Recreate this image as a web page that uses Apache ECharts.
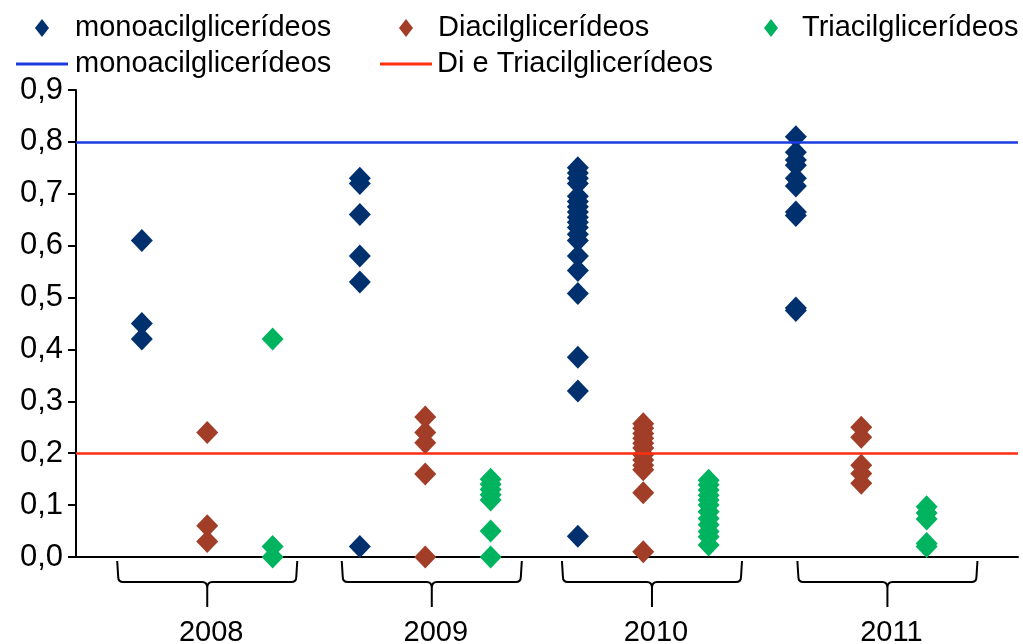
<!DOCTYPE html>
<html>
<head>
<meta charset="utf-8">
<script src="https://cdn.jsdelivr.net/npm/echarts@6/dist/echarts.min.js"></script>
<style>
  html, body { margin: 0; padding: 0; background: #fff; }
  #chart { width: 1023px; height: 644px; }
</style>
</head>
<body>
<div id="chart"></div>
<script>
// ---------- data ----------
const years = ['2008', '2009', '2010', '2011'];
const scatterNames = ['monoacilglicerídeos', 'Diacilglicerídeos', 'Triacilglicerídeos'];
const limitNames = ['monoacilglicerídeos', 'Di e Triacilglicerídeos'];
const limitValues = [0.8, 0.2];

// values per year (2008, 2009, 2010, 2011)
const monoacil = [
  [0.61, 0.45, 0.42],
  [0.73, 0.72, 0.66, 0.58, 0.53, 0.02],
  [0.75, 0.74, 0.73, 0.72, 0.695, 0.685, 0.675, 0.665, 0.655, 0.645, 0.635, 0.622, 0.61, 0.58, 0.552, 0.508, 0.385, 0.32, 0.04],
  [0.81, 0.78, 0.765, 0.755, 0.73, 0.715, 0.665, 0.658, 0.48, 0.475]
];
const diacil = [
  [0.24, 0.06, 0.03],
  [0.27, 0.24, 0.22, 0.16, 0.0],
  [0.257, 0.248, 0.238, 0.229, 0.219, 0.21, 0.197, 0.187, 0.177, 0.168, 0.124, 0.01],
  [0.25, 0.231, 0.177, 0.161, 0.142]
];
const triacil = [
  [0.42, 0.02, 0.0],
  [0.15, 0.14, 0.13, 0.12, 0.11, 0.05, 0.0],
  [0.148, 0.139, 0.129, 0.119, 0.11, 0.10, 0.087, 0.074, 0.062, 0.049, 0.039, 0.023],
  [0.097, 0.085, 0.073, 0.026, 0.02]
];

// ---------- layout / style ----------
const FONT = 'Liberation Sans, Arial, sans-serif';
const colors = ['#00306E', '#A23E28', '#00B45F'];
const limitColors = ['#1B3CE0', '#FF2E10'];
const seriesOffsets = [-0.3, 0, 0.3];
const braceCenters = [0.0, 1.03, 2.04, 3.12];
const braceHalf = 0.413;

function toPoints(groups, offset) {
  const out = [];
  groups.forEach((vals, g) => vals.forEach(v => out.push([g + offset, v])));
  return out;
}

const chart = echarts.init(document.getElementById('chart'), null, { renderer: 'canvas' });

const scatterSeries = [monoacil, diacil, triacil].map((arr, i) => ({
  name: scatterNames[i],
  type: 'scatter',
  data: toPoints(arr, seriesOffsets[i]),
  symbol: 'diamond',
  symbolSize: [22, 23],
  itemStyle: { color: colors[i], opacity: 1 },
  z: 2,
  silent: true
}));

const limitSeries = limitNames.map((n, i) => ({
  name: 'limit_' + i,
  type: 'line',
  data: [],
  color: limitColors[i],
  itemStyle: { color: limitColors[i] },
  lineStyle: { color: limitColors[i], width: 2 },
  markLine: {
    silent: true,
    symbol: 'none',
    label: { show: false },
    lineStyle: { color: limitColors[i], width: 2.5, type: 'solid' },
    data: [{ yAxis: limitValues[i] }],
    z: 5
  },
  z: 5
}));

const braceSeries = {
  type: 'custom',
  silent: true,
  clip: false,
  data: years.map((y, i) => [braceCenters[i], i]),
  renderItem: function (params, api) {
    const c = api.coord([api.value(0), 0]);
    const hw = api.size([braceHalf, 0])[0];
    const x0 = c[0] - hw, x1 = c[0] + hw, cx = c[0];
    const yT = c[1] + 4, yH = c[1] + 25, yB = c[1] + 50;
    const p = `M ${x0} ${yT} L ${x0 + 1} ${yH - 5} Q ${x0 + 1} ${yH} ${x0 + 6} ${yH} L ${cx - 5} ${yH} Q ${cx} ${yH} ${cx} ${yH + 6} L ${cx} ${yB} ` +
              `M ${cx} ${yH + 6} Q ${cx} ${yH} ${cx + 5} ${yH} L ${x1 - 6} ${yH} Q ${x1 - 1} ${yH} ${x1 - 1} ${yH - 5} L ${x1} ${yT}`;
    return {
      type: 'group',
      children: [
        { type: 'path', shape: { pathData: p }, style: { fill: 'none', stroke: '#000', lineWidth: 2 } },
        { type: 'text', style: { text: years[api.value(1)], x: cx + 4, y: c[1] + 76, align: 'center', verticalAlign: 'middle', fill: '#000', font: '29px ' + FONT } }
      ]
    };
  },
  z: 3
};

function legendItem(name, left, top, icon, w, h, pad, label) {
  return {
    show: true,
    data: [name],
    left: left,
    top: top,
    icon: icon,
    itemWidth: w,
    itemHeight: h,
    itemGap: 0,
    selectedMode: false,
    padding: 0,
    formatter: label ? (() => label) : undefined,
    textStyle: { fontFamily: FONT, fontSize: 29, color: '#000', padding: [0, 0, 0, pad], lineHeight: 32 }
  };
}

const option = {
  animation: false,
  backgroundColor: '#ffffff',
  textStyle: { fontFamily: FONT },
  grid: { left: 76, right: 5, top: 90, bottom: 87 },
  legend: [
    legendItem(scatterNames[0], 35, 12, 'diamond', 14, 18, 21),
    legendItem(scatterNames[1], 399, 12, 'diamond', 14, 18, 20),
    legendItem(scatterNames[2], 764, 12, 'diamond', 14, 18, 19),
    legendItem('limit_0', 16, 48, 'rect', 52, 3, 2, limitNames[0]),
    legendItem('limit_1', 380, 48, 'rect', 52, 3, 0, limitNames[1])
  ],
  xAxis: {
    type: 'value',
    min: -0.602,
    max: 3.719,
    axisLine: { show: true, onZero: false, lineStyle: { color: '#000', width: 2 } },
    axisTick: { show: false },
    axisLabel: { show: false },
    splitLine: { show: false }
  },
  yAxis: {
    type: 'value',
    min: 0,
    max: 0.9,
    interval: 0.1,
    axisLine: { show: true, onZero: false, lineStyle: { color: '#000', width: 2 } },
    axisTick: { show: true, inside: false, length: 8, lineStyle: { color: '#000', width: 2 } },
    axisLabel: {
      margin: 13,
      fontFamily: FONT,
      fontSize: 31,
      color: '#000',
      formatter: v => v.toFixed(1).replace('.', ',')
    },
    splitLine: { show: false }
  },
  series: [...scatterSeries, ...limitSeries, braceSeries]
};

chart.setOption(option);
</script>
</body>
</html>
